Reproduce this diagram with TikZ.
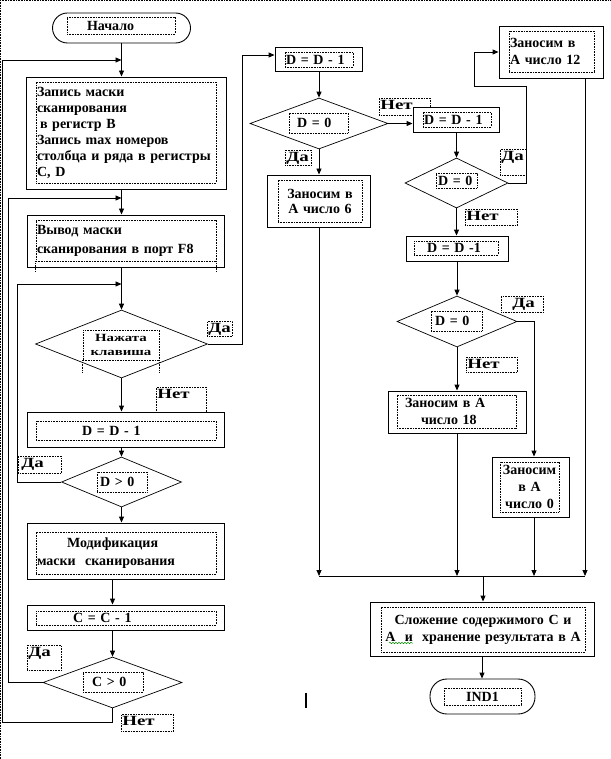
\documentclass[tikz,border=0pt]{standalone}
\usepackage{fontspec}
\setmainfont{Liberation Serif}
\newfontfamily\wideserif{Liberation Serif}[FakeStretch=1.35]
\usepackage{tikz}
\usetikzlibrary{arrows.meta,shapes.geometric,decorations.pathmorphing}
\tikzset{
  blk/.style={draw,line width=0.9pt,fill=white,inner sep=0pt},
  term/.style={blk,rounded corners=15pt},
  dec/.style={draw,diamond,line width=0.7pt,fill=white,inner sep=0pt},
  dots/.style={line width=0.6pt,dash pattern=on 0.8pt off 0.8pt},
  frm/.style={draw,dots,inner sep=1pt,align=left},
  lbl/.style={frm,anchor=north west,text height=10pt,font=\wideserif\fontsize{14}{16}\selectfont\bfseries},
  arr/.style={line width=0.9pt,-{Triangle[length=6pt,width=5pt]}},
  ln/.style={line width=0.9pt}
}

\begin{document}
\begin{tikzpicture}[x=1pt,y=-1pt,font=\fontsize{14}{17}\selectfont\bfseries]
  \fill[white] (0,0) rectangle (610,759);
  \useasboundingbox (0,0) rectangle (610,759);
  % page frame
  \draw[dots,line width=1pt] (0,0.5) -- (610,0.5);
  \draw[dots,line width=1pt] (0.5,0) -- (0.5,759);

  % yes / no labels
  \node[lbl,text width=23pt,text depth=3pt] (yes1) at (207,321) {Да};
  \node[lbl,text width=48pt,text depth=14pt] (no1) at (156,387) {Нет};
  \node[lbl,text width=41pt,text depth=5pt] (yes2) at (18,456) {\hspace*{2pt}Да};
  \node[lbl,text width=32pt,text depth=13pt] (yes3) at (27,645) {Да};
  \node[lbl,text width=50pt,text depth=5pt] (no3) at (121,714) {Нет};
  \node[lbl,text width=49pt,text depth=5pt] (no4) at (379,98) {Нет};
  \node[lbl,text width=24pt,text depth=3pt] (yes4) at (285,150) {Да};
  \node[lbl,text width=24pt,text depth=14pt] (yes5) at (500,149) {Да};
  \node[lbl,text width=50pt,text depth=4pt] (no5) at (465,209) {Нет};
  \node[lbl,text width=40pt,text depth=4pt] (yes6) at (501,296) {\hspace*{10pt}Да};
  \node[lbl,text width=49pt,text depth=3pt] (no6) at (466,357) {Нет};

  % left column
  \node[term,minimum width=138pt,minimum height=30pt] (start) at (121.5,28) {};
  \node[frm,text width=106pt,minimum height=17pt] (startf) at (121,25.5) {\hspace*{19pt}Начало};
  \node[blk,minimum width=200pt,minimum height=112pt] (b1) at (126,133) {};
  \node[frm,text width=178pt,minimum height=101pt,font=\fontsize{14}{16}\selectfont\bfseries] (b1f) at (126,132.5)
    {Запись маски\\сканирования\\\hspace*{3pt}в регистр В\\Запись max номеров\\столбца и ряда в регистры\\C, D};
  \node[blk,minimum width=197pt,minimum height=52pt] (b2) at (125.5,241) {};
  \node[frm,text width=178pt,minimum height=41pt,font=\fontsize{14}{19}\selectfont\bfseries] (b2f) at (126,240.5)
    {Вывод маски\\сканирования в порт F8};
  \draw[dots] (b2f.south west) -- ++(0,11);
  \draw[dots] (b2f.south east) -- ++(0,11);
  \node[dec,minimum width=172pt,minimum height=68pt] (d1) at (121.5,344) {};
  \node[frm,text width=74pt,minimum height=30pt,align=center,font=\wideserif\fontsize{11}{14}\selectfont\bfseries] (d1f) at (121,345)
    {Нажата\\клавиша};
  \draw[dots] (d1f.south west) -- ++(0,12);
  \draw[dots] (d1f.south east) -- ++(0,12);
  \node[blk,minimum width=197pt,minimum height=35pt] (b3) at (125.5,429.5) {};
  \node[frm,text width=178pt,minimum height=19pt] (b3f) at (126,430.5) {\hspace*{45pt}D = D - 1};
  \node[dec,minimum width=120pt,minimum height=50pt] (d2) at (121.5,482) {};
  \node[frm,text width=48pt,minimum height=20pt] (d2f) at (122,482) {\hspace*{2pt}D > 0};
  \node[blk,minimum width=197pt,minimum height=56pt] (b4) at (125.5,551) {};
  \node[frm,text width=178pt,minimum height=42pt,font=\fontsize{14}{18}\selectfont\bfseries] (b4f) at (126,553)
    {\hspace*{30pt}Модификация\\маски\ \ сканирования};
  \node[blk,minimum width=197pt,minimum height=25pt] (b5) at (125.5,617.5) {};
  \node[frm,text width=178pt,minimum height=14pt] (b5f) at (126,618) {\hspace*{36pt}C = C - 1};
  \node[dec,minimum width=139pt,minimum height=51pt] (d4) at (112.5,682.5) {};
  \node[frm,text width=58pt,minimum height=20pt] (d4f) at (113,682) {\hspace*{8pt}C > 0};

  % middle column
  \node[blk,minimum width=87pt,minimum height=24pt] (m1) at (318.5,59) {};
  \node[frm,text width=66pt,minimum height=15pt] (m1f) at (319,59.5) {D = D - 1};
  \node[dec,minimum width=138pt,minimum height=51pt] (md1) at (319,123.5) {};
  \node[frm,text width=57pt,minimum height=20pt] (md1f) at (318.5,123) {\hspace*{7pt}D = 0};
  \node[blk,minimum width=103pt,minimum height=52pt] (m6) at (318.5,201) {};
  \node[frm,text width=82pt,minimum height=42pt,align=center,font=\fontsize{14}{15}\selectfont\bfseries] (m6f) at (320,201)
    {Заносим в\\А число 6};

  % right column
  \node[blk,minimum width=86pt,minimum height=25pt] (m2) at (456,119.5) {};
  \node[frm,text width=66pt,minimum height=15pt] (m2f) at (457,119.5) {D = D - 1};
  \node[dec,minimum width=103pt,minimum height=50pt] (md2) at (456.5,183) {};
  \node[frm,text width=39pt,minimum height=15pt] (md2f) at (456.5,180.5) {\hspace*{1pt}D = 0};
  \node[blk,minimum width=104pt,minimum height=52pt] (m12) at (551,52) {};
  \node[frm,text width=83pt,minimum height=41pt] (m12f) at (551.5,51.5) {Заносим в\\А число 12};
  \node[blk,minimum width=102pt,minimum height=25pt] (m3) at (457,248.5) {};
  \node[frm,text width=82pt,minimum height=14pt] (m3f) at (456,248) {\hspace*{12pt}D = D -1};
  \node[dec,minimum width=120pt,minimum height=51pt] (md3) at (457,321.5) {};
  \node[frm,text width=49pt,minimum height=20pt] (md3f) at (456.5,321) {\hspace*{3pt}D = 0};
  \node[blk,minimum width=138pt,minimum height=42pt] (m18) at (457,412) {};
  \node[frm,text width=117pt,minimum height=33pt] (m18f) at (456.5,411.5)
    {\hspace*{7pt}Заносим в А\\\hspace*{23pt}число 18};
  \node[blk,minimum width=77pt,minimum height=60pt] (m0) at (530.5,487) {};
  \node[frm,text width=59pt,inner xsep=0pt,minimum height=50pt,align=center] (m0f) at (529.5,487)
    {Заносим\\в А\\число 0};

  % bottom
  \node[blk,minimum width=224pt,minimum height=54pt] (sum) at (482,629) {};
  \node[frm,text width=202pt,minimum height=45pt,align=center] (sumf) at (483,629.5)
    {Сложение содержимого С и\\А\ \ и\ \ хранение результата в А};
  \draw[green!55!black,line width=0.5pt,decorate,decoration={snake,amplitude=0.7pt,segment length=3pt}]
    (389,643) -- (413,643);
  \node[term,minimum width=105pt,minimum height=35pt,rounded corners=17pt] (end) at (482.5,696.5) {};
  \node[frm,text width=75pt,minimum height=17pt,align=center] (endf) at (482.5,696.5) {IND1};
  \draw[line width=1.6pt] (306,693) -- (306,708);

  % connectors, left column
  \draw[arr] (start.south) -- (start.south |- b1.north);
  \draw[arr] (b1.south -| start) -- (b2.north -| start);
  \draw[arr] (b2.south -| start) -- (d1.north);
  \draw[arr] (d1.south) -- (d1.south |- b3.north);
  \draw[arr] (b3.south -| d2) -- (d2.north);
  \draw[arr] (d2.south) -- (d2.south |- b4.north);
  \draw[arr] (b4.south -| d4) -- (b5.north -| d4);
  \draw[arr] (b5.south -| d4) -- (d4.north);
  % loops back
  \draw[arr] (d4.south) -- ++(0,14) -| (2,60) -- (start.south |- 0,60);
  \draw[arr] (d4.west) -- ++(-34,0) |- (start.south |- 0,198);
  \draw[arr] (d2.west) -- ++(-43.5,0) |- (start.south |- 0,284);
  \draw[arr] (d1.east) -| (242,55) -- ([yshift=4pt]m1.west);

  % connectors, middle and right
  \coordinate (jn) at (483,576);
  \draw[arr] (m1.south -| md1) -- (md1.north);
  \draw[arr] (md1.east) -- (md1.east -| m2.west);
  \draw[arr] (md1.south) -- (md1.south |- m6.north);
  \draw[arr] (m6.south -| md1) -- (md1 |- jn);
  \draw[arr] (m2.south -| md2) -- (md2.north);
  \draw[arr] (md2.east) -- ++(18,0) |- (474,86) |- (m12.west);
  \draw[arr] (md2.south) -- (md2.south |- m3.north);
  \draw[arr] (m3.south -| md3) -- (md3.north);
  \draw[arr] (md3.east) -| ([xshift=3.5pt]m0.north);
  \draw[arr] (md3.south) -- (md3.south |- m18.north);
  \draw[arr] (m18.south -| md3) -- (md3 |- jn);
  \draw[arr] ([xshift=3.5pt]m0.south) -- ([xshift=3.5pt]m0.south |- jn);
  \draw[arr] ([xshift=34pt]m12.south) -- ([xshift=34pt]m12.south |- jn);
  \draw[ln] (md1 |- jn) -- ([xshift=34pt]m12.south |- jn);
  \draw[arr] (jn) -- (jn |- sum.north);
  \draw[arr] (sum.south) -- (sum.south |- end.north);
\end{tikzpicture}
\end{document}
